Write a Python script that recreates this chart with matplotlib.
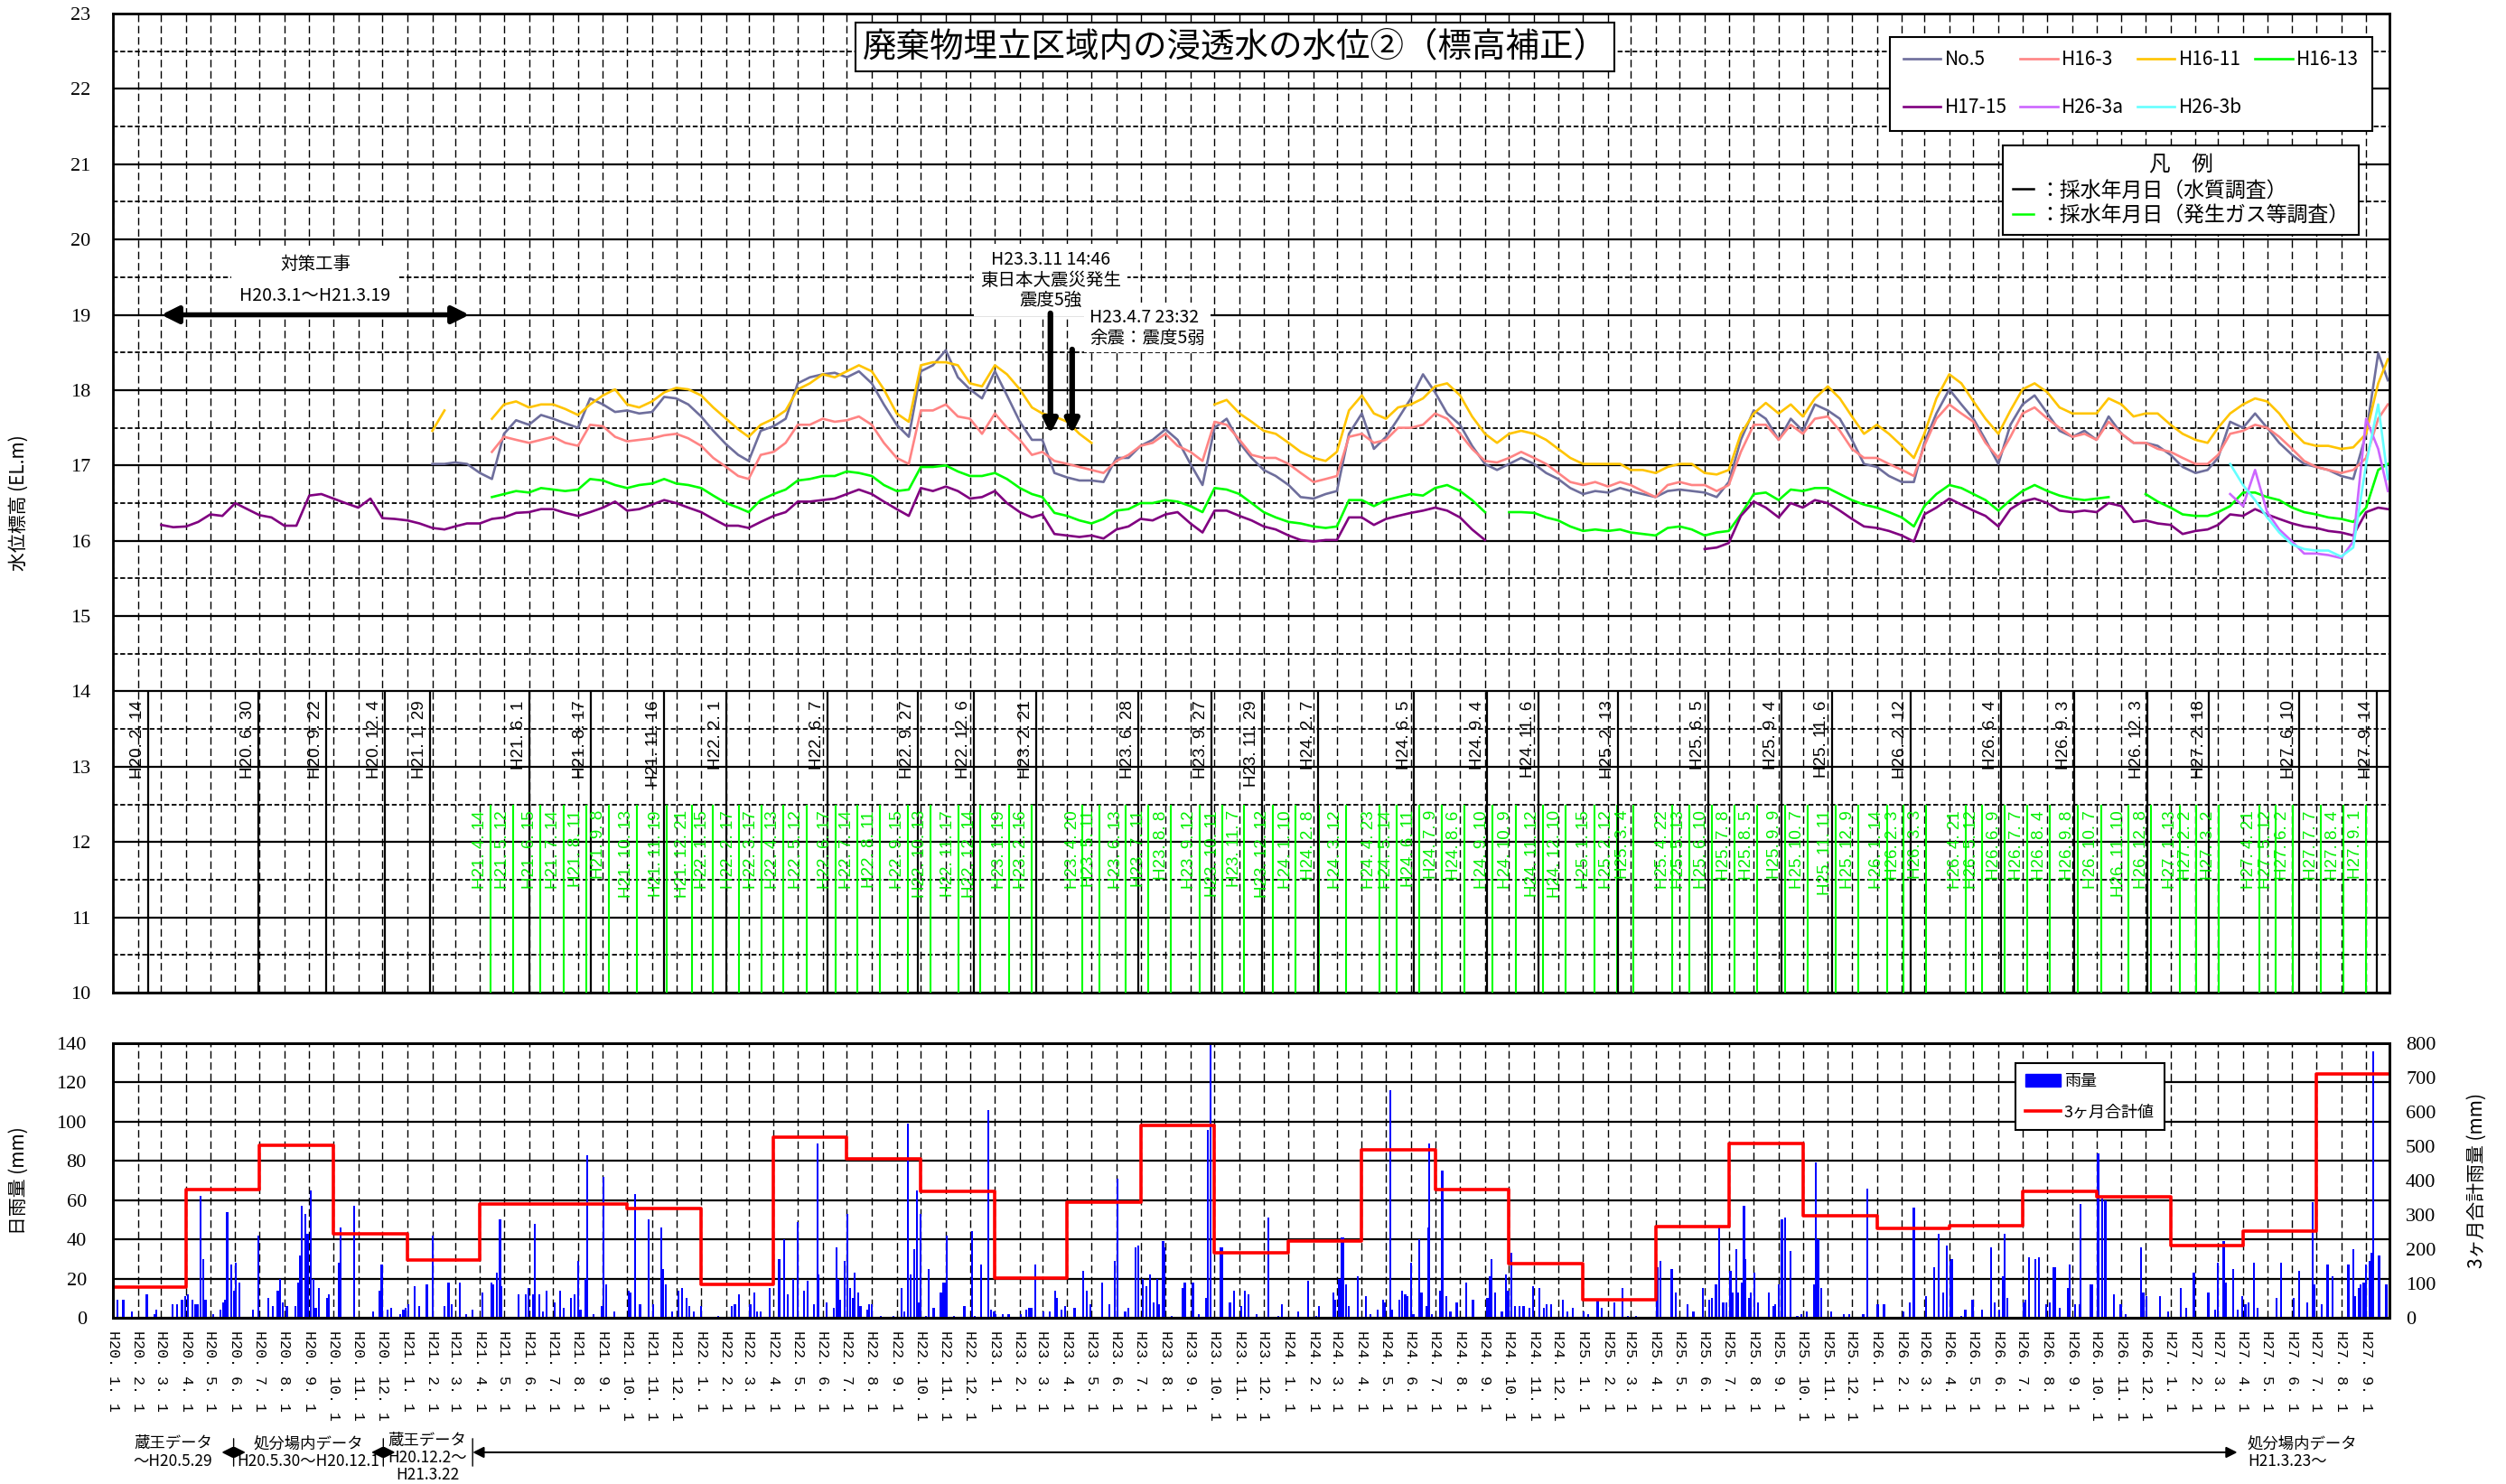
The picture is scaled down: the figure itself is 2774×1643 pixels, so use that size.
import numpy as np
import pandas as pd
import matplotlib
matplotlib.use("Agg")
import matplotlib.pyplot as plt
import matplotlib.dates as mdates
import matplotlib.ticker as ticker
from matplotlib.lines import Line2D
from matplotlib.patches import Patch

plt.rcParams["font.family"] = ["Noto Sans CJK JP", "DejaVu Sans"]
nan = np.nan

# ---------------- water level (EL.m), read on the 1st and 16th of every month, H20.1 - H27.9 (+ last reading)
no5 = ([nan] * 24 +
       [nan, nan, 17.02, 17.02, 17.04, 17.02, 16.90, 16.82, 17.42, 17.60, 17.54, 17.67,
        17.62, 17.56, 17.50, 17.89, 17.81, 17.71, 17.73, 17.69, 17.71, 17.91, 17.89, 17.81] +
       [17.65, 17.46, 17.28, 17.14, 17.06, 17.46, 17.52, 17.62, 18.09, 18.17, 18.21, 18.23,
        18.17, 18.25, 18.09, 17.81, 17.54, 17.38, 18.25, 18.33, 18.53, 18.17, 18.01, 17.89] +
       [18.25, 17.93, 17.58, 17.34, 17.34, 16.90, 16.84, 16.80, 16.80, 16.78, 17.10, 17.10,
        17.26, 17.34, 17.48, 17.34, 17.02, 16.74, 17.50, 17.62, 17.30, 17.10, 16.94, 16.86] +
       [16.74, 16.58, 16.56, 16.62, 16.66, 17.42, 17.69, 17.22, 17.38, 17.62, 17.89, 18.21,
        17.97, 17.69, 17.54, 17.26, 17.02, 16.94, 17.02, 17.10, 17.02, 16.90, 16.82, 16.70] +
       [16.62, 16.66, 16.64, 16.70, 16.66, 16.62, 16.58, 16.66, 16.68, 16.66, 16.64, 16.58,
        16.78, 17.34, 17.73, 17.62, 17.34, 17.62, 17.46, 17.81, 17.73, 17.62, 17.34, 17.02] +
       [16.98, 16.86, 16.78, 16.78, 17.30, 17.69, 18.01, 17.81, 17.62, 17.34, 17.02, 17.54,
        17.81, 17.93, 17.69, 17.46, 17.38, 17.46, 17.34, 17.65, 17.42, 17.30, 17.30, 17.26] +
       [17.14, 16.98, 16.90, 16.94, 17.10, 17.58, 17.50, 17.69, 17.50, 17.30, 17.14, 17.02,
        16.98, 16.94, 16.86, 16.82, 17.42, 18.49, 18.13])

h16_3 = ([nan] * 24 +
         [nan] * 7 +
         [17.18, 17.38, 17.34, 17.30, 17.34,
          17.38, 17.30, 17.26, 17.54, 17.52, 17.38, 17.32, 17.34, 17.36, 17.40, 17.42, 17.36] +
         [17.26, 17.10, 16.98, 16.86, 16.82, 17.14, 17.18, 17.30, 17.54, 17.54, 17.62, 17.58,
          17.60, 17.65, 17.54, 17.30, 17.10, 17.02, 17.73, 17.73, 17.81, 17.65, 17.62, 17.42] +
         [17.69, 17.50, 17.34, 17.14, 17.18, 17.06, 17.02, 16.98, 16.94, 16.90, 17.06, 17.14,
          17.26, 17.30, 17.42, 17.26, 17.18, 17.06, 17.58, 17.54, 17.34, 17.14, 17.10, 17.10] +
         [17.02, 16.90, 16.78, 16.82, 16.86, 17.38, 17.42, 17.30, 17.34, 17.50, 17.50, 17.54,
          17.69, 17.62, 17.42, 17.22, 17.06, 17.04, 17.10, 17.18, 17.10, 17.02, 16.90, 16.78] +
         [16.74, 16.78, 16.72, 16.78, 16.74, 16.66, 16.58, 16.74, 16.78, 16.74, 16.74, 16.66,
          16.74, 17.18, 17.54, 17.54, 17.34, 17.54, 17.42, 17.62, 17.65, 17.46, 17.22, 17.10] +
         [17.10, 17.02, 16.94, 16.86, 17.26, 17.62, 17.81, 17.69, 17.58, 17.30, 17.10, 17.38,
          17.69, 17.77, 17.62, 17.50, 17.38, 17.42, 17.34, 17.58, 17.42, 17.30, 17.30, 17.22] +
         [17.18, 17.10, 17.02, 17.02, 17.14, 17.42, 17.46, 17.54, 17.50, 17.38, 17.22, 17.06,
          16.98, 16.94, 16.90, 16.94, 17.10, 17.62, 17.81])

h16_11 = ([nan] * 24 +
          [nan, nan, 17.46, 17.73, nan, nan, nan, 17.62, 17.81, 17.85, 17.77, 17.81,
           17.81, 17.75, 17.67, 17.81, 17.93, 18.01, 17.81, 17.77, 17.85, 17.97, 18.03, 18.01] +
          [17.93, 17.77, 17.62, 17.48, 17.38, 17.54, 17.62, 17.73, 18.01, 18.09, 18.21, 18.17,
           18.25, 18.33, 18.25, 18.01, 17.69, 17.58, 18.33, 18.37, 18.37, 18.33, 18.09, 18.05] +
          [18.33, 18.21, 18.01, 17.77, 17.69, 17.65, 17.58, 17.42, 17.30, nan, nan, nan,
           nan, nan, nan, nan, nan, nan, 17.81, 17.87, 17.69, 17.58, 17.46, 17.42] +
          [17.30, 17.18, 17.10, 17.06, 17.18, 17.73, 17.93, 17.69, 17.62, 17.77, 17.81, 17.89,
           18.05, 18.09, 17.93, 17.65, 17.42, 17.30, 17.42, 17.46, 17.42, 17.34, 17.22, 17.10] +
          [17.02, 17.02, 17.02, 17.02, 16.94, 16.94, 16.90, 16.98, 17.02, 17.02, 16.90, 16.88,
           16.94, 17.42, 17.69, 17.83, 17.69, 17.81, 17.65, 17.89, 18.05, 17.89, 17.65, 17.42] +
          [17.54, 17.42, 17.26, 17.10, 17.42, 17.89, 18.21, 18.09, 17.85, 17.62, 17.42, 17.73,
           18.01, 18.09, 17.97, 17.77, 17.69, 17.69, 17.69, 17.89, 17.81, 17.65, 17.69, 17.69] +
          [17.54, 17.42, 17.34, 17.30, 17.50, 17.69, 17.81, 17.89, 17.85, 17.69, 17.46, 17.30,
           17.26, 17.26, 17.22, 17.24, 17.42, 18.09, 18.41])

h16_13 = ([nan] * 24 +
          [nan] * 7 +
          [16.58, 16.62, 16.66, 16.64, 16.70,
           16.68, 16.66, 16.68, 16.82, 16.80, 16.74, 16.70, 16.74, 16.76, 16.82, 16.76, 16.74] +
          [16.70, 16.60, 16.50, 16.44, 16.38, 16.54, 16.62, 16.68, 16.80, 16.82, 16.86, 16.86,
           16.92, 16.90, 16.86, 16.74, 16.66, 16.68, 16.98, 16.98, 17.00, 16.92, 16.86, 16.86] +
          [16.90, 16.82, 16.70, 16.62, 16.58, 16.37, 16.33, 16.27, 16.23, 16.29, 16.40, 16.42,
           16.50, 16.50, 16.54, 16.52, 16.46, 16.38, 16.70, 16.68, 16.62, 16.50, 16.38, 16.31] +
          [16.25, 16.23, 16.19, 16.17, 16.19, 16.54, 16.54, 16.46, 16.54, 16.58, 16.62, 16.60,
           16.70, 16.74, 16.66, 16.54, 16.38, nan, 16.38, 16.38, 16.37, 16.31, 16.27, 16.19] +
          [16.13, 16.15, 16.13, 16.15, 16.11, 16.09, 16.07, 16.17, 16.19, 16.15, 16.07, 16.11,
           16.13, 16.35, 16.62, 16.64, 16.54, 16.68, 16.66, 16.70, 16.70, 16.62, 16.54, 16.48] +
          [16.44, 16.38, 16.31, 16.19, 16.46, 16.62, 16.74, 16.70, 16.62, 16.54, 16.40, 16.54,
           16.66, 16.74, 16.66, 16.60, 16.56, 16.54, 16.56, 16.58, nan, nan, 16.62, 16.52] +
          [16.44, 16.35, 16.33, 16.33, 16.38, 16.46, 16.64, 16.64, 16.58, 16.54, 16.44, 16.38,
           16.35, 16.31, 16.29, 16.25, 16.44, 16.94, 17.02])

h17_15 = ([nan, nan, nan, nan, 16.21, 16.18, 16.19, 16.25, 16.35, 16.33, 16.50, 16.42,
           16.34, 16.31, 16.20, 16.20, 16.60, 16.62, 16.56, 16.50, 16.44, 16.56, 16.30, 16.29] +
          [16.27, 16.23, 16.17, 16.15, 16.19, 16.23, 16.23, 16.29, 16.31, 16.37, 16.38, 16.42,
           16.42, 16.37, 16.33, 16.38, 16.44, 16.52, 16.40, 16.42, 16.48, 16.54, 16.50, 16.44] +
          [16.38, 16.29, 16.20, 16.20, 16.17, 16.25, 16.33, 16.38, 16.52, 16.52, 16.54, 16.56,
           16.62, 16.68, 16.62, 16.52, 16.42, 16.33, 16.70, 16.66, 16.72, 16.66, 16.56, 16.58] +
          [16.66, 16.50, 16.38, 16.31, 16.35, 16.09, 16.07, 16.05, 16.07, 16.03, 16.15, 16.19,
           16.29, 16.27, 16.35, 16.38, 16.23, 16.11, 16.40, 16.40, 16.33, 16.27, 16.19, 16.15] +
          [16.07, 16.01, 15.99, 16.01, 16.01, 16.31, 16.31, 16.21, 16.29, 16.33, 16.37, 16.40,
           16.44, 16.40, 16.31, 16.15, 16.01, nan, nan, nan, nan, nan, nan, nan] +
          [nan] * 10 +
          [15.89, 15.91, 15.97, 16.33, 16.52, 16.44, 16.31, 16.50, 16.44, 16.54, 16.50, 16.40,
           16.29, 16.19] +
          [16.17, 16.13, 16.07, 15.99, 16.35, 16.44, 16.56, 16.48, 16.40, 16.33, 16.19, 16.42,
           16.52, 16.56, 16.50, 16.40, 16.38, 16.40, 16.38, 16.50, 16.46, 16.25, 16.27, 16.23] +
          [16.21, 16.09, 16.13, 16.15, 16.21, 16.35, 16.33, 16.42, 16.35, 16.29, 16.23, 16.19,
           16.17, 16.13, 16.11, 16.07, 16.38, 16.44, 16.42])

h26_3a = ([nan] * 168 +
          [nan, nan, nan, nan, nan, 16.62, 16.46, 16.94, 16.38, 16.15, 15.99, 15.83,
           15.83, 15.81, 15.77, 15.99, 17.62, 17.22, 16.66])

h26_3b = ([nan] * 168 +
          [nan, nan, nan, nan, nan, 17.02, 16.74, 16.54, 16.31, 16.11, 15.95, 15.89,
           15.87, 15.87, 15.79, 15.91, 17.02, 17.81, 16.82])

series_names = ["No.5", "H16-3", "H16-11", "H16-13", "H17-15", "H26-3a", "H26-3b"]
series_values = [no5, h16_3, h16_11, h16_13, h17_15, h26_3a, h26_3b]
series_colors = ["#6E6E9C", "#FF8484", "#FFC400", "#00FF00", "#800080", "#CC66FF", "#66FFFF"]

# sampling dates (Heisei era)
quality_dates = ["H20.2.14", "H20.6.30", "H20.9.22", "H20.12.4", "H21.1.29", "H21.6.1", "H21.8.17",
                 "H21.11.16", "H22.2.1", "H22.6.7", "H22.9.27", "H22.12.6", "H23.2.21", "H23.6.28",
                 "H23.9.27", "H23.11.29", "H24.2.7", "H24.6.5", "H24.9.4", "H24.11.6", "H25.2.13",
                 "H25.6.5", "H25.9.4", "H25.11.6", "H26.2.12", "H26.6.4", "H26.9.3", "H26.12.3",
                 "H27.2.18", "H27.6.10", "H27.9.14"]
gas_dates = ["H21.4.14", "H21.5.12", "H21.6.15", "H21.7.14", "H21.8.11", "H21.9.8", "H21.10.13",
             "H21.11.19", "H21.12.21", "H22.1.15", "H22.2.17", "H22.3.17", "H22.4.13", "H22.5.12",
             "H22.6.17", "H22.7.14", "H22.8.11", "H22.9.15", "H22.10.13", "H22.11.17", "H22.12.14",
             "H23.1.19", "H23.2.16", "H23.4.20", "H23.5.11", "H23.6.13", "H23.7.11", "H23.8.8",
             "H23.9.12", "H23.10.11", "H23.11.7", "H23.12.12", "H24.1.10", "H24.2.8", "H24.3.12",
             "H24.4.23", "H24.5.14", "H24.6.11", "H24.7.9", "H24.8.6", "H24.9.10", "H24.10.9",
             "H24.11.12", "H24.12.10", "H25.1.15", "H25.2.12", "H25.3.4", "H25.4.22", "H25.5.13",
             "H25.6.10", "H25.7.8", "H25.8.5", "H25.9.9", "H25.10.7", "H25.11.11", "H25.12.9",
             "H26.1.14", "H26.2.3", "H26.3.3", "H26.4.21", "H26.5.12", "H26.6.9", "H26.7.7",
             "H26.8.4", "H26.9.8", "H26.10.7", "H26.11.10", "H26.12.8", "H27.1.13", "H27.2.2",
             "H27.3.2", "H27.4.21", "H27.5.12", "H27.6.2", "H27.7.7", "H27.8.4", "H27.9.1"]

# ---------------- rainfall: (days after H20.1.1, daily mm)
rain_events = [
    (6, 9), (13, 9), (24, 3), (42, 12), (52, 2), (54, 4), (74, 7), (80, 7), (86, 9), (90, 11),
    (93, 12), (99, 9), (102, 7), (105, 7), (109, 62), (112, 30), (115, 9), (125, 2), (134, 4),
    (137, 8), (139, 9), (142, 54), (147, 27), (150, 14), (153, 28), (157, 18), (174, 4), (181, 42),
    (193, 10), (199, 6), (205, 14), (208, 20), (211, 8), (216, 6), (227, 6), (230, 18), (232, 32),
    (235, 57), (239, 53), (242, 43), (246, 65), (249, 20), (252, 5), (256, 15), (266, 10), (268, 12),
    (281, 28), (283, 46), (300, 57), (323, 3), (331, 14), (334, 27), (341, 4), (346, 5), (357, 2),
    (361, 4), (364, 5), (367, 7), (375, 16), (381, 6), (390, 17), (397, 42), (412, 6), (417, 18),
    (421, 7), (431, 18), (439, 2), (447, 4), (459, 13), (470, 18), (472, 17), (477, 23), (481, 50),
    (483, 16), (504, 12), (513, 12), (516, 15), (522, 12), (524, 48), (530, 12), (534, 3), (539, 14),
    (549, 8), (556, 14), (560, 5), (569, 10), (574, 12), (578, 29), (581, 4), (587, 20), (589, 83),
    (597, 2), (608, 6), (610, 72), (613, 17), (623, 3), (641, 14), (643, 13), (649, 63), (655, 7),
    (666, 50), (671, 7), (681, 46), (684, 25), (687, 17), (695, 3), (703, 14), (707, 15), (713, 10),
    (716, 6), (722, 3), (731, 6), (752, 1), (769, 6), (773, 7), (778, 12), (792, 7), (797, 13),
    (800, 3), (805, 3), (816, 15), (828, 30), (834, 40), (839, 12), (845, 20), (851, 49), (859, 14),
    (863, 19), (871, 7), (876, 89), (877, 22), (887, 8), (896, 5), (899, 36), (901, 20), (904, 9),
    (909, 29), (913, 53), (916, 15), (919, 10), (922, 23), (926, 13), (929, 6), (938, 4), (940, 7),
    (943, 7), (954, 1), (970, 1), (980, 15), (983, 3), (988, 99), (991, 22), (996, 35), (999, 65),
    (1002, 8), (1004, 53), (1010, 1), (1014, 25), (1020, 5), (1029, 13), (1032, 18), (1034, 18),
    (1036, 42), (1045, 1), (1058, 6), (1068, 44), (1071, 1), (1079, 27), (1088, 106), (1091, 4),
    (1095, 3), (1097, 2), (1106, 2), (1113, 2), (1128, 2), (1135, 4), (1139, 5), (1142, 5),
    (1146, 27), (1156, 3), (1164, 3), (1171, 14), (1173, 10), (1179, 4), (1183, 6), (1195, 5),
    (1206, 24), (1210, 14), (1215, 7), (1229, 18), (1238, 7), (1245, 29), (1248, 71), (1258, 3),
    (1262, 5), (1271, 36), (1274, 37), (1280, 20), (1284, 16), (1289, 22), (1293, 8), (1298, 20),
    (1300, 7), (1305, 39), (1307, 36), (1316, 1), (1329, 15), (1332, 18), (1342, 18), (1349, 2),
    (1359, 10), (1361, 96), (1364, 145), (1376, 36), (1378, 36), (1388, 8), (1393, 14), (1402, 6),
    (1407, 14), (1411, 12), (1421, 2), (1436, 51), (1448, 1), (1453, 7), (1473, 3), (1485, 19),
    (1495, 1), (1499, 6), (1517, 13), (1519, 9), (1524, 20), (1527, 41), (1529, 41), (1532, 17),
    (1536, 6), (1547, 21), (1557, 11), (1563, 2), (1572, 4), (1578, 9), (1581, 8), (1587, 116),
    (1589, 4), (1599, 9), (1602, 14), (1606, 12), (1609, 11), (1613, 28), (1616, 2), (1623, 40),
    (1626, 13), (1632, 6), (1635, 46), (1636, 89), (1639, 2), (1649, 14), (1652, 75), (1657, 11),
    (1662, 3), (1670, 8), (1682, 18), (1690, 9), (1708, 10), (1711, 21), (1713, 30), (1718, 13),
    (1726, 3), (1731, 22), (1734, 14), (1738, 33), (1742, 6), (1748, 6), (1753, 6), (1760, 5),
    (1765, 16), (1773, 15), (1778, 5), (1782, 7), (1787, 7), (1802, 9), (1807, 3), (1814, 5),
    (1828, 3), (1833, 2), (1845, 9), (1850, 5), (1866, 8), (1876, 15), (1883, 1), (1893, 1),
    (1919, 26), (1920, 21), (1923, 29), (1937, 25), (1942, 13), (1957, 7), (1964, 3), (1976, 15),
    (1984, 9), (1987, 10), (1992, 17), (1996, 46), (2001, 8), (2005, 8), (2010, 24), (2013, 13),
    (2017, 35), (2020, 13), (2024, 18), (2027, 57), (2029, 30), (2033, 10), (2035, 13), (2040, 23),
    (2044, 8), (2058, 13), (2063, 6), (2066, 7), (2070, 17), (2074, 50), (2078, 51), (2085, 34),
    (2093, 1), (2098, 2), (2105, 3), (2114, 17), (2116, 79), (2119, 40), (2123, 15), (2135, 3),
    (2151, 2), (2158, 2), (2175, 2), (2180, 66), (2193, 7), (2201, 7), (2225, 3), (2233, 8),
    (2238, 56), (2253, 11), (2263, 26), (2269, 43), (2274, 13), (2279, 37), (2283, 29), (2285, 30),
    (2297, 1), (2302, 4), (2311, 9), (2323, 4), (2334, 36), (2338, 8), (2344, 4), (2349, 21),
    (2351, 43), (2354, 10), (2374, 8), (2377, 9), (2381, 31), (2389, 30), (2393, 31), (2402, 7),
    (2407, 8), (2412, 26), (2414, 26), (2419, 5), (2429, 15), (2432, 27), (2438, 7), (2444, 7),
    (2445, 58), (2458, 17), (2460, 17), (2467, 84), (2472, 61), (2476, 60), (2487, 12), (2495, 7),
    (2501, 2), (2520, 36), (2523, 13), (2527, 11), (2544, 11), (2554, 3), (2570, 15), (2576, 5),
    (2586, 23), (2604, 13), (2612, 4), (2616, 28), (2623, 39), (2626, 18), (2635, 25), (2640, 4),
    (2646, 11), (2650, 7), (2654, 8), (2661, 28), (2665, 5), (2689, 10), (2694, 28), (2710, 10),
    (2717, 24), (2727, 8), (2734, 59), (2736, 17), (2745, 7), (2752, 27), (2758, 21), (2778, 27),
    (2784, 35), (2786, 11), (2791, 15), (2793, 17), (2797, 18), (2800, 27), (2804, 29), (2807, 33),
    (2809, 136), (2816, 32), (2825, 17),
]

# 3-month totals (mm), one per quarter from H20.1
rain_3month = [90, 373, 502, 244,
               168, 331, 331, 319,
               97, 527, 464, 369,
               115, 336, 561, 190,
               223, 490, 374, 157,
               53, 265, 507, 298,
               261, 268, 369, 352,
               210, 252, 711]


def heisei_date(s):
    y, m, d = (int(v) for v in s[1:].split("."))
    return pd.Timestamp(1988 + y, m, d)


def heisei_label(ts):
    return f"H{ts.year - 1988}. {ts.month}. {ts.day}"


x_start, x_end = pd.Timestamp("2008-01-01"), pd.Timestamp("2015-09-30")
sample_dates = list(pd.date_range("2008-01-01", "2015-09-16", freq="SMS-16")) + [pd.Timestamp("2015-09-28")]
rain_day, rain_mm = zip(*rain_events)
rain_dates = x_start + pd.to_timedelta(list(rain_day), unit="D")
quarter_dates = list(pd.date_range("2008-01-01", periods=len(rain_3month), freq="QS")) + [x_end]

W, H = 2774, 1643
fig = plt.figure(figsize=(W / 100, H / 100), dpi=100)
ax = fig.add_axes([125 / W, 1 - 1099 / H, 2520 / W, 1084 / H])
ax2 = fig.add_axes([125 / W, 1 - 1459 / H, 2520 / W, 304 / H])
ax2b = ax2.twinx()

serif = "Liberation Serif"
dash_v = (0, (6, 3))

for a in (ax, ax2):
    a.set_xlim(x_start, x_end)
    a.xaxis.set_major_locator(mdates.MonthLocator())
    a.grid(axis="x", which="major", color="black", lw=1.0, ls=dash_v)
    a.set_axisbelow(True)
for a in (ax, ax2, ax2b):
    for sp in a.spines.values():
        sp.set_linewidth(2)

# ---------------- top panel
ax.set_ylim(10, 23)
ax.yaxis.set_major_locator(ticker.MultipleLocator(1))
ax.yaxis.set_minor_locator(ticker.MultipleLocator(0.5))
ax.grid(axis="y", which="major", color="black", lw=1.6)
ax.grid(axis="y", which="minor", color="black", lw=1.3, ls=(0, (3, 1.5)))
ax.tick_params(axis="x", which="both", length=0, labelbottom=False)
ax.tick_params(axis="y", which="both", length=0, pad=18, labelsize=16, labelfontfamily=serif)
ax.set_ylabel("水位標高 (EL.m)", fontsize=15)
ax.yaxis.set_label_coords(-0.037, 0.5)

lines = {}
for name, vals, col in zip(series_names, series_values, series_colors):
    lines[name], = ax.plot(sample_dates, np.array(vals, dtype=float), color=col, lw=1.9, label=name)

q_dates = [heisei_date(s) for s in quality_dates]
g_dates = [heisei_date(s) for s in gas_dates]
ax.vlines(g_dates, 10, 12.5, color="#00FF00", lw=1.5, zorder=3)
ax.vlines(q_dates, 10, 14, color="black", lw=1.6, zorder=3)
for d in q_dates:
    ax.annotate(heisei_label(d), xy=(d, 13.88), xytext=(-2, 0), textcoords="offset points",
                rotation=90, ha="right", va="top", fontsize=13.5, family="Liberation Sans", color="black")
for d in g_dates:
    ax.annotate(heisei_label(d), xy=(d, 12.42), xytext=(-2, 0), textcoords="offset points",
                rotation=90, ha="right", va="top", fontsize=13.5, family="Liberation Sans", color="#00EE00")

ax.text(0.493, 0.966, "廃棄物埋立区域内の浸透水の水位②（標高補正）", transform=ax.transAxes,
        ha="center", va="center", fontsize=27, zorder=6,
        bbox=dict(boxstyle="square,pad=0.2", fc="white", ec="black", lw=1.5))

# countermeasure works
works_start, works_end = heisei_date("H20.3.1"), heisei_date("H21.3.19")
ax.text(works_start + (works_end - works_start) / 2, 19.46, "対策工事\nH20.3.1～H21.3.19",
        ha="center", va="center", fontsize=14, linespacing=1.9, zorder=5,
        bbox=dict(boxstyle="square,pad=0.5", fc="white", ec="none"))
ax.annotate("", xy=(works_start, 19), xytext=(works_end, 19), zorder=7,
            arrowprops=dict(arrowstyle="<|-|>", lw=4, color="black", mutation_scale=28, shrinkA=0, shrinkB=0))

# earthquakes
eq1, eq2 = heisei_date("H23.3.11"), heisei_date("H23.4.7")
ax.text(eq1, 19.46, "H23.3.11 14:46\n東日本大震災発生\n震度5強", ha="center", va="center",
        fontsize=14, linespacing=1.1, zorder=5,
        bbox=dict(boxstyle="square,pad=0.35", fc="white", ec="none"))
ax.annotate("H23.4.7 23:32\n余震：震度5弱", xy=(eq2, 18.83), xytext=(14, 0), textcoords="offset points",
            ha="left", va="center", fontsize=14, linespacing=1.1, zorder=5,
            bbox=dict(boxstyle="square,pad=0.3", fc="white", ec="none"))
for d, top in ((eq1, 19.02), (eq2, 18.54)):
    ax.annotate("", xy=(d, 17.42), xytext=(d, top), zorder=7,
                arrowprops=dict(arrowstyle="-|>", lw=4.5, color="black", mutation_scale=22, shrinkA=0, shrinkB=0))

order = ["No.5", "H17-15", "H16-3", "H26-3a", "H16-11", "H26-3b", "H16-13"]
leg1 = ax.legend([lines[n] for n in order], order, ncol=4, loc="upper right",
                 bbox_to_anchor=(0.9964, 0.986), fontsize=15, handlelength=2.0, handletextpad=0.2,
                 columnspacing=0.7, labelspacing=1.5, borderpad=0.7, fancybox=False,
                 edgecolor="black", framealpha=1)
leg1.get_frame().set_linewidth(1.5)
ax.add_artist(leg1)
leg2 = ax.legend([Line2D([], [], color="black", lw=1.8), Line2D([], [], color="#00FF00", lw=1.8)],
                 ["：採水年月日（水質調査）", "：採水年月日（発生ガス等調査）"], title="凡　例",
                 loc="upper right", bbox_to_anchor=(0.991, 0.8755), fontsize=16.5, title_fontsize=17,
                 handlelength=1.0, handletextpad=0.3, labelspacing=0.2, borderpad=0.45,
                 fancybox=False, edgecolor="black", framealpha=1)
leg2.get_frame().set_linewidth(1.5)

# ---------------- bottom panel
ax2.set_ylim(0, 140)
ax2.yaxis.set_major_locator(ticker.MultipleLocator(20))
ax2.grid(axis="y", which="major", color="black", lw=1.6)
ax2.xaxis.set_major_formatter(ticker.FuncFormatter(lambda v, pos: heisei_label(mdates.num2date(v))))
ax2.tick_params(axis="x", length=0, pad=10, labelsize=12, labelrotation=270, labelfontfamily="Liberation Mono")
ax2.tick_params(axis="y", length=0, pad=21, labelsize=16, labelfontfamily=serif)
ax2.set_ylabel("日雨量 (mm)", fontsize=15)
ax2.yaxis.set_label_coords(-0.037, 0.5)

ax2.bar(rain_dates, rain_mm, width=2.5, color="#0000FF", lw=0, zorder=2)

ax2b.set_ylim(0, 800)
ax2b.yaxis.set_major_locator(ticker.MultipleLocator(100))
ax2b.tick_params(axis="y", length=0, pad=13, labelsize=16, labelfontfamily=serif)
ax2b.step(quarter_dates, rain_3month + [rain_3month[-1]], where="post", color="red", lw=2.6)
ax2b.set_ylabel("3ヶ月合計雨量 (mm)", fontsize=15, rotation=90)
ax2b.yaxis.set_label_coords(1.034, 0.5)

leg3 = ax2b.legend([Patch(facecolor="#0000FF", edgecolor="#0000FF"), Line2D([], [], color="red", lw=2.6)],
                   ["雨量", "3ヶ月合計値"], loc="upper left", bbox_to_anchor=(0.832, 0.957), fontsize=13,
                   handlelength=2.2, handleheight=0.8, handletextpad=0.2, labelspacing=0.9,
                   borderpad=0.6, fancybox=False, edgecolor="black", framealpha=1)
leg3.get_frame().set_linewidth(1.5)

# data source notes under the rain chart
xy_mix = ("data", "axes fraction")
zao_end, site_start = heisei_date("H20.5.29"), heisei_date("H20.5.30")
site_end, zao2_start = heisei_date("H20.12.1"), heisei_date("H20.12.2")
zao2_end, site2_start = heisei_date("H21.3.22"), heisei_date("H21.3.23")
arrow_end = pd.Timestamp("2015-03-25")
note_y = -0.49
half = pd.Timedelta(days=15)
note_kw = dict(xycoords=xy_mix, ha="center", va="center", fontsize=12.5, linespacing=1.1,
               annotation_clip=False)

ax2.annotate("蔵王データ\n～H20.5.29", xy=(x_start + (zao_end - x_start) / 2, note_y), **note_kw)
ax2.annotate("処分場内データ\nH20.5.30～H20.12.1", xy=(site_start + (site_end - site_start) / 2, note_y), **note_kw)
ax2.annotate("蔵王データ\nH20.12.2～\nH21.3.22", xy=(zao2_start + (zao2_end - zao2_start) / 2, note_y - 0.02),
             **note_kw)
for j in (site_start, zao2_start):
    ax2.annotate("", xy=(j - half, note_y), xytext=(j + half, note_y), xycoords=xy_mix, annotation_clip=False,
                 arrowprops=dict(arrowstyle="<|-|>", lw=1.5, color="black", mutation_scale=18,
                                 shrinkA=0, shrinkB=0))
for j in (site_start, zao2_start, site2_start):
    ax2.annotate("", xy=(j, note_y + 0.05), xytext=(j, note_y - 0.05), xycoords=xy_mix, annotation_clip=False,
                 arrowprops=dict(arrowstyle="-", lw=1.0, color="black", shrinkA=0, shrinkB=0))
ax2.annotate("", xy=(site2_start, note_y), xytext=(arrow_end, note_y), xycoords=xy_mix, annotation_clip=False,
             arrowprops=dict(arrowstyle="<|-|>", lw=1.5, color="black", mutation_scale=18, shrinkA=0, shrinkB=0))
ax2.annotate("処分場内データ\nH21.3.23～", xy=(arrow_end, note_y), xytext=(8, 0), textcoords="offset points",
             xycoords=xy_mix, ha="left", va="center", fontsize=12.5, linespacing=1.1, annotation_clip=False)

fig.savefig("out.png", dpi=100, facecolor="white")
